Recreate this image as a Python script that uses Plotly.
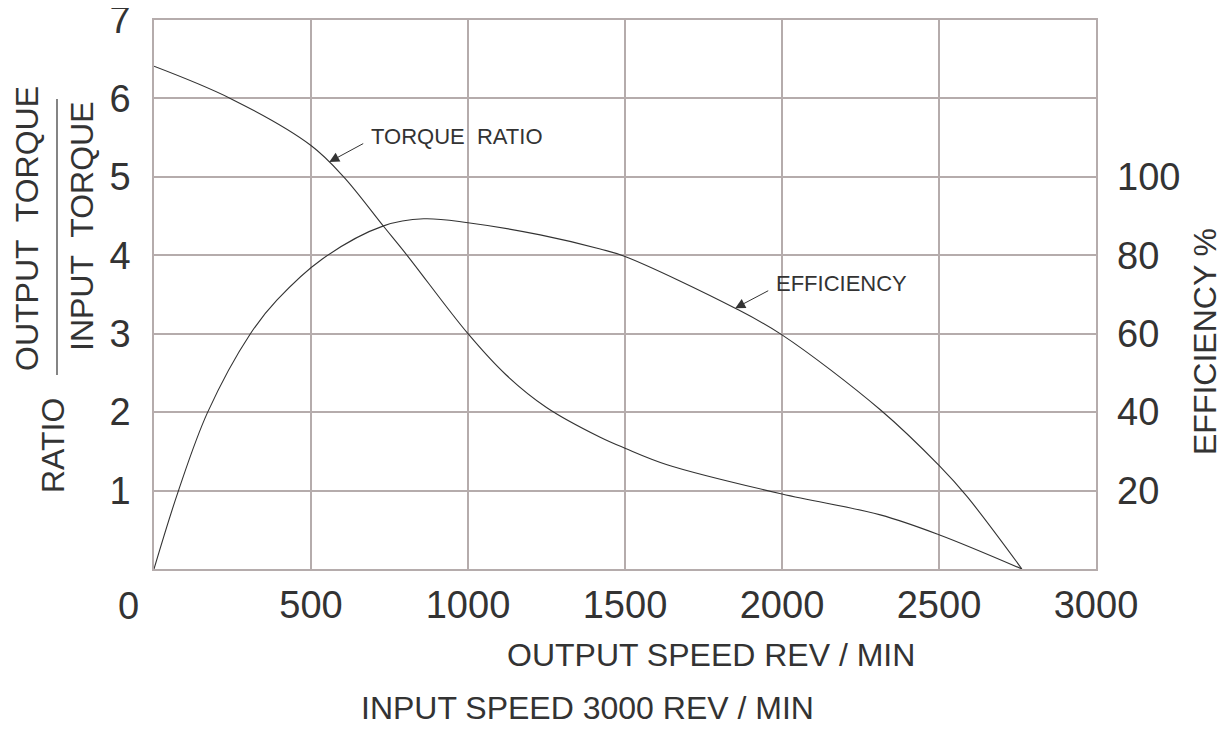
import plotly.graph_objects as go

# ---- data ----
torque_speed = [0, 243, 500, 604, 731, 806, 1000, 1120, 1250, 1421, 1500, 1634, 2000, 2313, 2500, 2764]
torque_ratio = [6.41, 6.0, 5.40, 5.0, 4.37, 4.0, 3.0, 2.48, 2.06, 1.68, 1.54, 1.33, 0.956, 0.69, 0.437, 0.0]

eff_speed = [0, 78, 171, 307, 392, 535, 731, 859, 1000, 1230, 1421, 1500, 1851, 2000, 2313, 2500, 2589, 2764]
efficiency = [0, 20, 40, 60, 68.6, 79, 87.5, 89.3, 88.3, 85.2, 81.6, 79.7, 66.5, 59.7, 40.6, 26.4, 18.5, 0]

x_ticks = [500, 1000, 1500, 2000, 2500, 3000]
y_ticks = [1, 2, 3, 4, 5, 6, 7]
eff_ticks = [20, 40, 60, 80, 100]

FONT = "Liberation Sans, Arial, sans-serif"
TXT = "#333333"
GRID = "#b5acac"
LINE = "#333333"

OFF = 8  # page body margin
W, H = 1230 - OFF, 732 - OFF
L, R, T, B = 154 - OFF, 134, 20 - OFF, 163
PW, PH = W - L - R, H - T - B


def px(xp, yp):
    """screen pixel -> paper coords"""
    return (xp - OFF - L) / PW, (H - B - (yp - OFF)) / PH


fig = go.Figure()
fig.add_trace(go.Scatter(x=torque_speed, y=torque_ratio, mode="lines",
                         line=dict(color=LINE, width=1.1, shape="spline", smoothing=1.0),
                         hoverinfo="skip", showlegend=False))
fig.add_trace(go.Scatter(x=eff_speed, y=efficiency, mode="lines", yaxis="y2",
                         line=dict(color=LINE, width=1.1, shape="spline", smoothing=1.0),
                         hoverinfo="skip", showlegend=False))

fig.update_layout(
    width=W, height=H,
    margin=dict(l=L, r=R, t=T, b=B, autoexpand=False),
    paper_bgcolor="white", plot_bgcolor="white",
    font=dict(family=FONT, color=TXT),
    xaxis=dict(range=[0, 3000], tickvals=x_ticks, ticktext=[str(v) for v in x_ticks],
               showgrid=True, gridcolor=GRID, gridwidth=1.5, zeroline=False,
               showline=True, linecolor=GRID, linewidth=1.5, mirror=True,
               ticks="", tickfont=dict(size=38, color=TXT), ticklabelstandoff=2,
               ticklabeloverflow="allow", automargin=False),
    yaxis=dict(range=[0, 7], tickvals=y_ticks, ticktext=[str(v) for v in y_ticks],
               showgrid=True, gridcolor=GRID, gridwidth=1.5, zeroline=False,
               showline=True, linecolor=GRID, linewidth=1.5, mirror=True,
               ticks="", tickfont=dict(size=38, color=TXT), ticklabelstandoff=14,
               ticklabeloverflow="allow", automargin=False),
    yaxis2=dict(range=[0, 140], overlaying="y", side="right", tickvals=eff_ticks,
                ticktext=[str(v) for v in eff_ticks], showgrid=False, zeroline=False,
                showline=False, ticks="", tickfont=dict(size=38, color=TXT),
                ticklabelstandoff=20, ticklabeloverflow="allow", automargin=False),
)

anns = []


def text_at(xp, yp, text, size=32, angle=0, xanchor="center"):
    xx, yy = px(xp, yp)
    anns.append(dict(x=xx, y=yy, xref="paper", yref="paper", text=text, showarrow=False,
                     textangle=angle, xanchor=xanchor, yanchor="middle",
                     font=dict(size=size, color=TXT, family=FONT)))


text_at(27, 229, "OUTPUT\u00a0 TORQUE", angle=-90)
text_at(82, 226, "INPUT\u00a0 TORQUE", angle=-90)
text_at(53, 446, "RATIO", angle=-90)
text_at(1205, 342, "EFFICIENCY %", angle=-90)
text_at(711, 655, "OUTPUT SPEED REV / MIN")
text_at(587, 708, "INPUT SPEED 3000 REV / MIN")
text_at(128, 606, "0", size=38)

# curve labels with pointer arrows
anns.append(dict(x=558, y=5.19, xref="x", yref="y", text=" ", showarrow=True,
                 ax=37, ay=-20, arrowhead=2, arrowsize=2, arrowwidth=1, arrowcolor=LINE,
                 standoff=0, startstandoff=0))
anns.append(dict(x=686, y=5.51, xref="x", yref="y", text="TORQUE\u00a0 RATIO", showarrow=False,
                 xanchor="left", yanchor="middle", font=dict(size=22, color=TXT, family=FONT)))
anns.append(dict(x=1851, y=3.326, xref="x", yref="y", text=" ", showarrow=True,
                 ax=36, ay=-19, arrowhead=2, arrowsize=2, arrowwidth=1, arrowcolor=LINE,
                 standoff=0, startstandoff=0))
anns.append(dict(x=1975, y=3.645, xref="x", yref="y", text="EFFICIENCY", showarrow=False,
                 xanchor="left", yanchor="middle", font=dict(size=22, color=TXT, family=FONT)))

fx, fy0 = px(57, 99)
_, fy1 = px(57, 375)
shapes = [dict(type="line", xref="paper", yref="paper", x0=fx, x1=fx, y0=fy0, y1=fy1,
               line=dict(color=TXT, width=1.2))]

fig.update_layout(annotations=anns, shapes=shapes)
fig.write_html("out.html")
